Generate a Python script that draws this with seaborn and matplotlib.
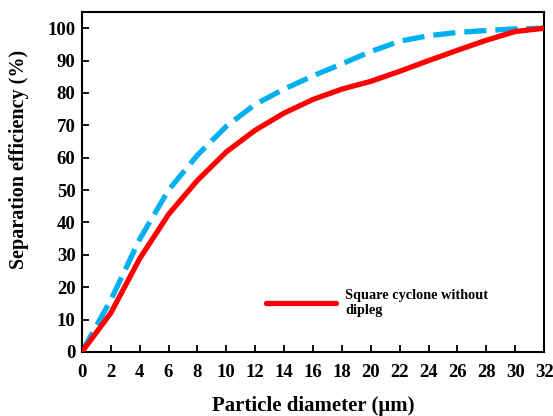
import matplotlib
matplotlib.use("Agg")
import matplotlib.pyplot as plt
import seaborn as sns
import pandas as pd

# Particle diameter (um)
diameter = [0, 2, 4, 6, 8, 10, 12, 14, 16, 18, 20, 22, 24, 26, 28, 30, 32]
# Separation efficiency (%) - square cyclone without dipleg
eff_no_dipleg = [0, 12, 28.8, 42.5, 53, 61.8, 68.5, 73.8, 78, 81.2, 83.6, 86.7, 90, 93.2, 96.3, 99, 100]
# Separation efficiency (%) - second configuration (dashed)
eff_dashed = [0, 16, 34.8, 50, 60.8, 69.7, 76.5, 81.2, 85.3, 89, 92.8, 96, 97.7, 98.7, 99.3, 99.8, 100]

x_ticks = list(range(0, 33, 2))
y_ticks = list(range(0, 101, 10))

sns.set_theme(style="white")
plt.rcParams["font.family"] = ["Liberation Serif", "DejaVu Serif"]
plt.rcParams["font.weight"] = "bold"
plt.rcParams["text.color"] = "black"
plt.rcParams["axes.labelcolor"] = "black"

df = pd.DataFrame({"d": diameter, "a": eff_no_dipleg, "b": eff_dashed})

fig = plt.figure(figsize=(5.53, 4.16), dpi=100)
ax = fig.add_axes([0.148, 0.154, 0.836, 0.817])

sns.lineplot(data=df, x="d", y="b", ax=ax, color="#00B0F0", linewidth=3.8,
             dashes=False, zorder=2)
ax.lines[-1].set_dashes([4.2, 1.7])
ax.lines[-1].set_dash_capstyle("butt")
sns.lineplot(data=df, x="d", y="a", ax=ax, color="#FF0000", linewidth=3.8,
             zorder=3, label="Square cyclone without\ndipleg")

ax.set_xlim(0, 32)
ax.set_ylim(0, 105)
ax.set_xticks(x_ticks)
ax.set_yticks(y_ticks)
ax.tick_params(axis="both", direction="in", length=5, width=1.3,
               labelsize=13.5, colors="black",
               bottom=True, left=True, top=False, right=False)
ax.tick_params(axis="x", pad=9)
ax.tick_params(axis="y", pad=4.5)
for lbl in ax.get_xticklabels() + ax.get_yticklabels():
    lbl.set_fontweight("bold")
for sp in ax.spines.values():
    sp.set_color("black")
    sp.set_linewidth(1.5)

ax.set_xlabel("Particle diameter (\u03bcm)", fontsize=15, fontweight="bold",
              color="black")
ax.set_ylabel("Separation efficiency (%)", fontsize=14.5, fontweight="bold",
              color="black")
ax.xaxis.set_label_coords(0.5, -0.13)
ax.yaxis.set_label_coords(-0.115, 0.565)

leg = ax.legend(loc="upper left", bbox_to_anchor=(0.371, 0.222), frameon=False,
                handlelength=4.9, handletextpad=0.6, labelcolor="black",
                prop={"family": "Liberation Serif", "weight": "bold", "size": 10.3})

fig.savefig("out.png", dpi=100)
